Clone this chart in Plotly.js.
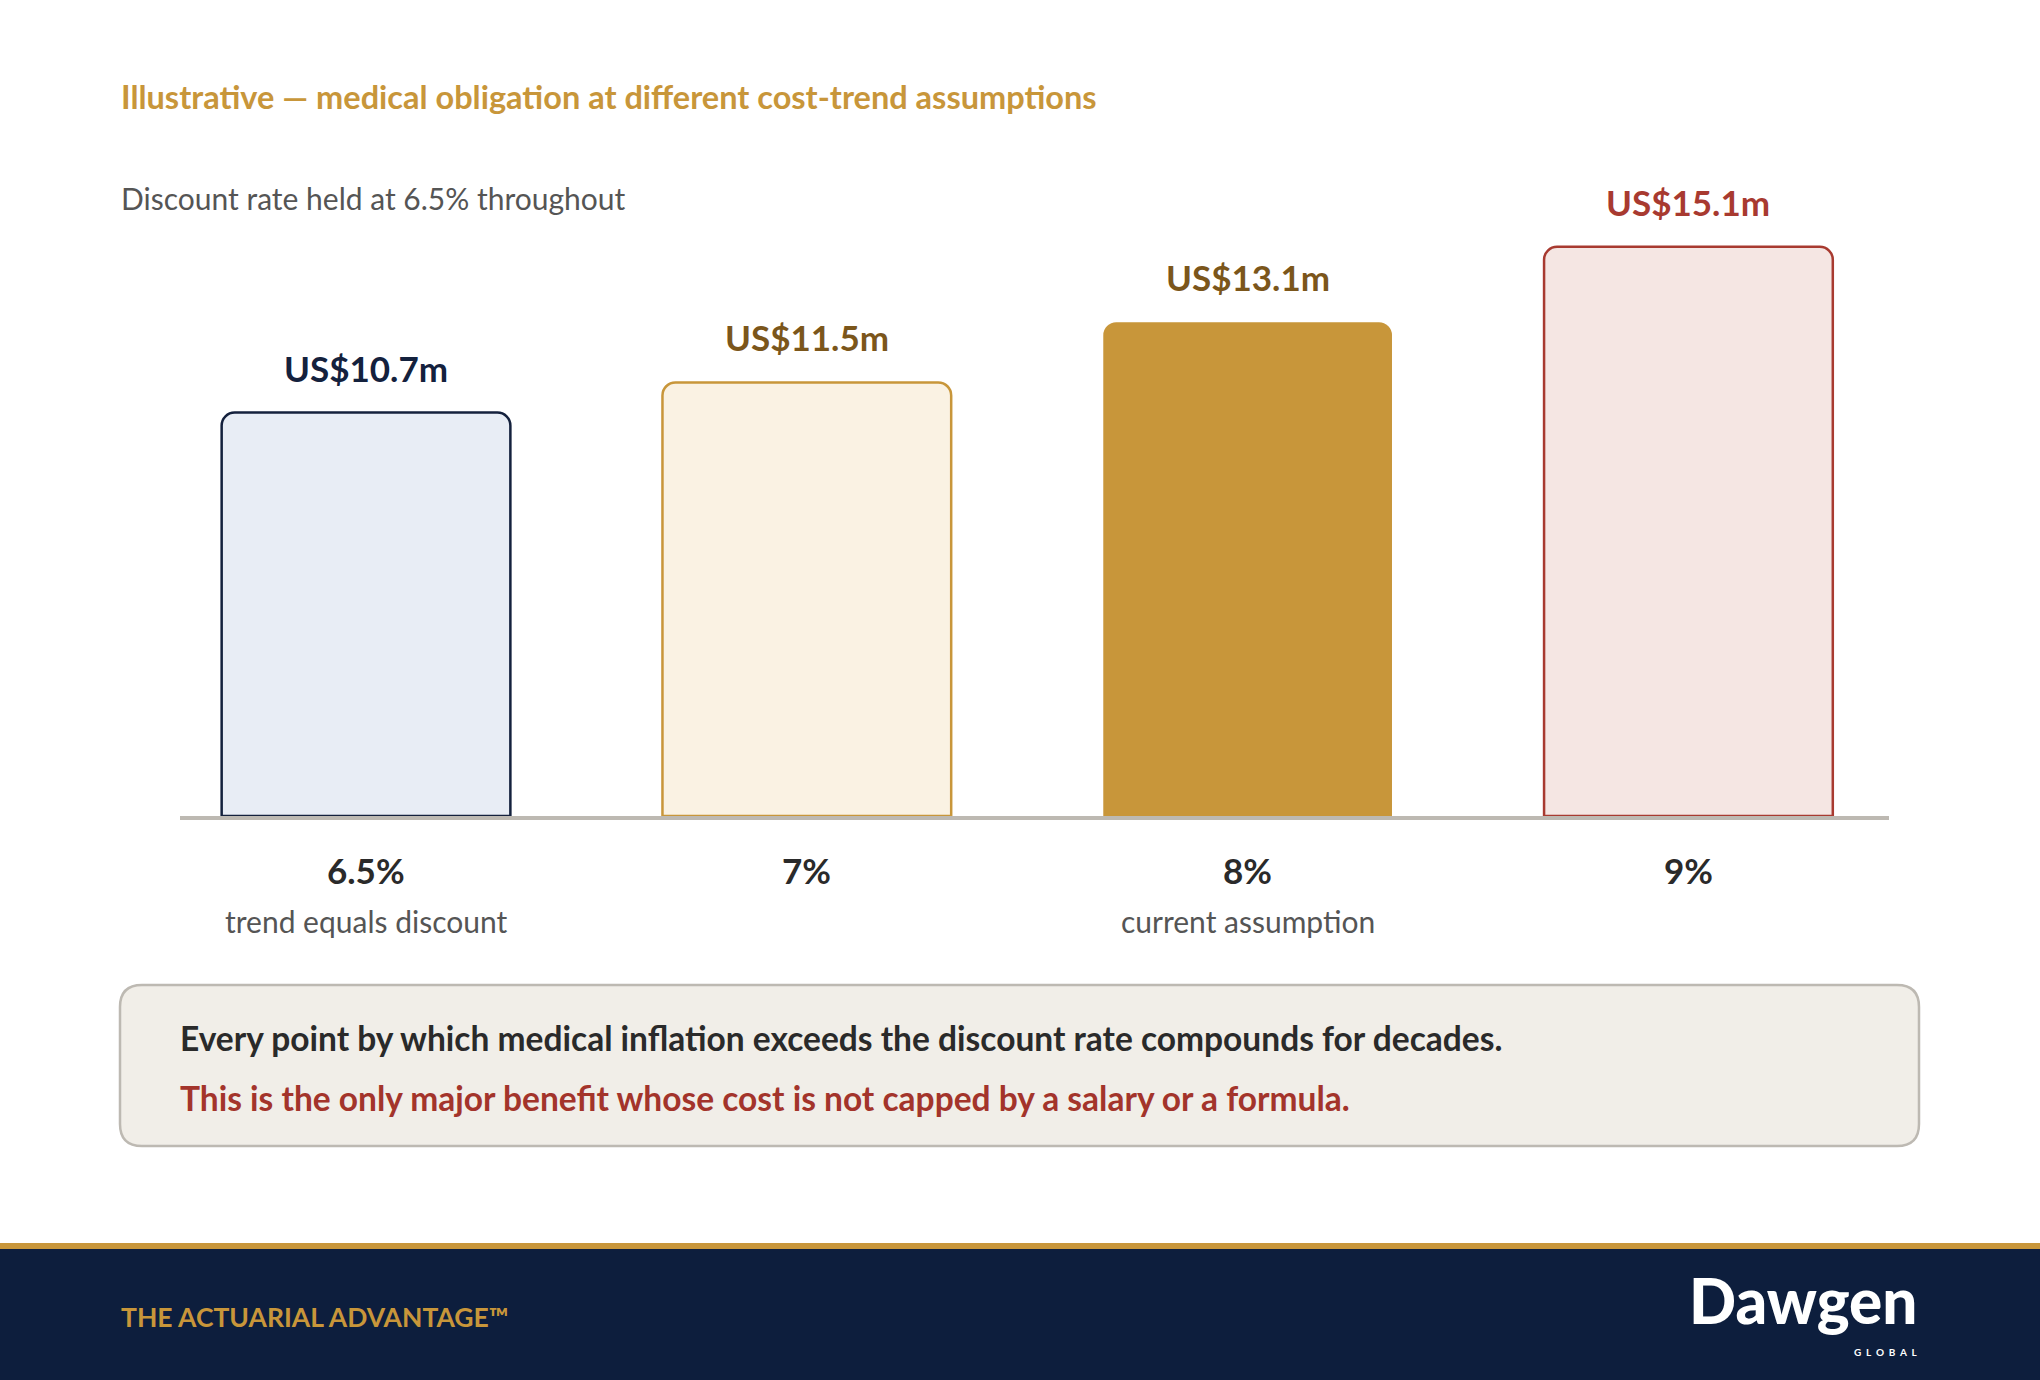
<!DOCTYPE html>
<html>
<head>
<meta charset="utf-8">
<script src="https://cdn.plot.ly/plotly-3.0.1.min.js"></script>
<style>
  html, body { margin: 0; padding: 0; background: #ffffff; }
  #chart { width: 2040px; height: 1380px; }
</style>
</head>
<body>
<div id="chart"></div>
<script>
// ---- data ----
const categories = ['6.5%', '7%', '8%', '9%'];
const obligations = [10.7, 11.5, 13.1, 15.1];               // US$ millions
const valueLabels = ['US$10.7m', 'US$11.5m', 'US$13.1m', 'US$15.1m'];
const subLabels = ['trend equals discount', '', 'current assumption', ''];

const titleText = 'Illustrative \u2014 medical obligation at different cost-trend assumptions';
const subtitleText = 'Discount rate held at 6.5% throughout';
const calloutLine1 = 'Every point by which medical inflation exceeds the discount rate compounds for decades.';
const calloutLine2 = 'This is the only major benefit whose cost is not capped by a salary or a formula.';
const footerText = 'THE ACTUARIAL ADVANTAGE\u2122';

// ---- styles ----
const fillColors = ['#E8EDF5', '#FAF2E3', '#C8963A', '#F5E6E3'];
const lineColors = ['#14213D', '#C8963A', '#C8963A', '#A83A30'];
const lineWidths = [2.5, 2.5, 0, 2.5];
const labelColors = ['#14213D', '#7B561B', '#7B561B', '#A83A30'];

// ---- layout geometry (pixels) ----
const W = 2040, H = 1380;
const L = 180, R = 1889, T = 170, B = 816;
const px2x = p => (p - L) / (R - L);
const py2y = p => (B - p) / (B - T);
const FONT = 'Lato, "Open Sans", sans-serif';

function roundRect(x0p, y0p, x1p, y1p, r) {
  const xl = px2x(x0p), xr = px2x(x1p), yt = py2y(y0p), yb = py2y(y1p);
  const rx = r / (R - L), ry = r / (B - T);
  return `M ${xl + rx},${yt} L ${xr - rx},${yt} Q ${xr},${yt} ${xr},${yt - ry} ` +
         `L ${xr},${yb + ry} Q ${xr},${yb} ${xr - rx},${yb} L ${xl + rx},${yb} ` +
         `Q ${xl},${yb} ${xl},${yb + ry} L ${xl},${yt - ry} Q ${xl},${yt} ${xl + rx},${yt} Z`;
}

const trace = {
  type: 'bar',
  x: categories,
  y: obligations,
  width: 0.655,
  marker: {
    color: fillColors,
    line: { color: lineColors, width: lineWidths },
    cornerradius: 13
  },
  hoverinfo: 'skip',
  showlegend: false
};

const annotations = [];
function pAnn(xp, yp, text, size, color, weight, xanchor) {
  annotations.push({
    xref: 'paper', yref: 'paper', x: px2x(xp), y: py2y(yp),
    xanchor: xanchor || 'left', yanchor: 'middle', showarrow: false,
    text: text, font: { family: FONT, size: size, color: color, weight: weight || 400 }
  });
}

pAnn(119, 96, titleText, 32.5, '#C8963A', 700);
pAnn(119, 198, subtitleText, 30, '#555555', 400);

categories.forEach((c, i) => {
  annotations.push({
    xref: 'x', yref: 'y', x: c, y: obligations[i], yanchor: 'bottom', yshift: 22,
    showarrow: false, text: valueLabels[i],
    font: { family: FONT, size: 35, color: labelColors[i], weight: 700 }
  });
  annotations.push({
    xref: 'x', yref: 'paper', x: c, y: py2y(870), yanchor: 'middle',
    showarrow: false, text: c,
    font: { family: FONT, size: 35, color: '#2A2A2A', weight: 700 }
  });
  if (subLabels[i]) {
    annotations.push({
      xref: 'x', yref: 'paper', x: c, y: py2y(921), yanchor: 'middle',
      showarrow: false, text: subLabels[i],
      font: { family: FONT, size: 30, color: '#555555', weight: 400 }
    });
  }
});

pAnn(178, 1038, calloutLine1, 33.5, '#2A2A2A', 700);
pAnn(178, 1098, calloutLine2, 33.5, '#A3342B', 700);
pAnn(119, 1317, footerText, 26.5, '#C8963A', 700);
pAnn(1919, 1300, 'Dawgen', 62, '#FFFFFF', 900, 'right');
annotations.push({
  xref: 'paper', yref: 'paper', x: px2x(1919), y: py2y(1352),
  xanchor: 'right', yanchor: 'middle', showarrow: false,
  text: 'G  L  O  B  A  L', font: { family: FONT, size: 10, color: '#FFFFFF', weight: 700 }
});

const shapes = [
  { type: 'path', xref: 'paper', yref: 'paper', path: roundRect(120, 985, 1919, 1146, 22),
    fillcolor: '#F1EEE8', line: { color: '#BDB9B2', width: 2.5 }, layer: 'below' },
  { type: 'rect', xref: 'paper', yref: 'paper', x0: px2x(0), x1: px2x(W), y0: py2y(1249), y1: py2y(1243),
    fillcolor: '#C8963A', line: { width: 0 }, layer: 'below' },
  { type: 'rect', xref: 'paper', yref: 'paper', x0: px2x(0), x1: px2x(W), y0: py2y(H + 2), y1: py2y(1249),
    fillcolor: '#0D1E3D', line: { width: 0 }, layer: 'below' }
];

const layout = {
  width: W, height: H,
  margin: { l: L, r: W - R, t: T, b: H - B, pad: 0 },
  paper_bgcolor: '#FFFFFF', plot_bgcolor: 'rgba(0,0,0,0)',
  font: { family: FONT },
  showlegend: false,
  hovermode: false,
  xaxis: {
    type: 'category', range: [-0.422, 3.455],
    showline: true, linecolor: '#BDB9B2', linewidth: 4,
    showticklabels: false, ticks: '', showgrid: false, zeroline: false, fixedrange: true
  },
  yaxis: {
    range: [0, (B - T) / 37.7], visible: false, showgrid: false, zeroline: false, fixedrange: true
  },
  annotations: annotations,
  shapes: shapes
};

Plotly.newPlot('chart', [trace], layout, { staticPlot: true, displayModeBar: false });
</script>
</body>
</html>
